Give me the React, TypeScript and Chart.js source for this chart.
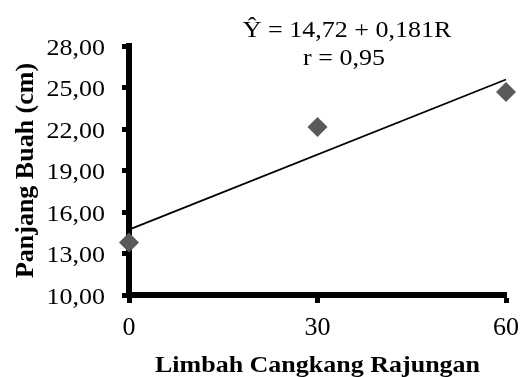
import React, { useEffect, useRef } from "react";
import { Chart, registerables } from "chart.js";

Chart.register(...registerables);

// Data
const limbahLevels = [0, 30, 60];
const panjangBuah = [13.8, 22.15, 24.67];
// Regression line Ŷ = 14,72 + 0,181R evaluated at the axis ends
const trendX = [0, 60];
const trendY = [14.72, 25.58];
const yTickMin = 10;
const yTickMax = 28;
const yTickStep = 3;
const xTickStep = 30;
const equationText = "Ŷ = 14,72 + 0,181R";
const rText = "r = 0,95";
const xTitle = "Limbah Cangkang Rajungan";
const yTitle = "Panjang Buah (cm)";

const SERIF = '"Liberation Serif", Tinos, "Times New Roman", Times, serif';

function drawScaled(
  ctx: CanvasRenderingContext2D,
  text: string,
  x: number,
  y: number,
  font: string,
  align: CanvasTextAlign,
  sx: number,
  sy: number
) {
  ctx.save();
  ctx.translate(x, y);
  ctx.scale(sx, sy);
  ctx.font = font;
  ctx.fillStyle = "#000";
  ctx.textAlign = align;
  ctx.textBaseline = "alphabetic";
  ctx.fillText(text, 0, 0);
  ctx.restore();
}

const textPlugin = {
  id: "textPlugin",
  afterDraw(chart: any) {
    const ctx: CanvasRenderingContext2D = chart.ctx;
    const xs = chart.scales.x;
    const ys = chart.scales.y;
    ys.ticks.forEach((t: any) => {
      const py = ys.getPixelForValue(t.value);
      const label = t.value.toFixed(2).replace(".", ",");
      drawScaled(ctx, label, 105, py + 8.5, `26px ${SERIF}`, "right", 1, 0.85);
    });
    xs.ticks.forEach((t: any) => {
      const px = xs.getPixelForValue(t.value);
      drawScaled(ctx, String(t.value), px, 335, `26px ${SERIF}`, "center", 1, 1);
    });
    drawScaled(ctx, xTitle, (chart.chartArea.left + chart.chartArea.right) / 2, 372, `bold 26px ${SERIF}`, "center", 1, 0.85);
    ctx.save();
    ctx.translate(33, (chart.chartArea.top + chart.chartArea.bottom) / 2);
    ctx.rotate(-Math.PI / 2);
    ctx.font = `bold 26px ${SERIF}`;
    ctx.fillStyle = "#000";
    ctx.textAlign = "center";
    ctx.textBaseline = "alphabetic";
    ctx.fillText(yTitle, 0, 0);
    ctx.restore();
    drawScaled(ctx, equationText, 347, 37, `26px ${SERIF}`, "center", 1, 0.85);
    drawScaled(ctx, rText, 344, 65, `26px ${SERIF}`, "center", 1, 0.85);
  },
};

export default function App() {
  const canvasRef = useRef<HTMLCanvasElement | null>(null);

  useEffect(() => {
    document.body.style.margin = "0";
    const canvas = canvasRef.current;
    if (!canvas) return;
    const chart = new Chart(canvas, {
      type: "scatter",
      data: {
        datasets: [
          {
            label: "Panjang Buah",
            data: limbahLevels.map((x, i) => ({ x, y: panjangBuah[i] })),
            pointStyle: "rectRot",
            pointRadius: 10,
            pointHoverRadius: 10,
            pointBackgroundColor: "#5a5a5a",
            pointBorderColor: "#5a5a5a",
            pointBorderWidth: 0,
            showLine: false,
            clip: false,
            order: 1,
          } as any,
          {
            label: "Regresi",
            data: trendX.map((x, i) => ({ x, y: trendY[i] })),
            showLine: true,
            borderColor: "#000",
            borderWidth: 1.8,
            pointRadius: 0,
            clip: false,
            order: 2,
          } as any,
        ],
      },
      options: {
        responsive: false,
        animation: false,
        devicePixelRatio: 1,
        layout: { padding: { top: 46, right: 20, left: 0, bottom: 0 } },
        plugins: {
          legend: { display: false },
          tooltip: { enabled: false },
        },
        scales: {
          x: {
            type: "linear",
            min: 0,
            max: 60,
            ticks: { stepSize: xTickStep, display: false },
            grid: {
              display: true,
              drawOnChartArea: false,
              drawTicks: true,
              tickLength: 8,
              tickWidth: 5,
              tickColor: "#000",
            },
            border: { display: true, color: "#000", width: 6 },
            afterFit: (s: any) => {
              s.height = 82;
            },
          },
          y: {
            type: "linear",
            min: yTickMin,
            max: yTickMax,
            ticks: { stepSize: yTickStep, display: false },
            grid: {
              display: true,
              drawOnChartArea: false,
              drawTicks: true,
              tickLength: 7,
              tickWidth: 5,
              tickColor: "#000",
            },
            border: { display: true, color: "#000", width: 6 },
            afterFit: (s: any) => {
              s.width = 129;
            },
          },
        },
      } as any,
      plugins: [textPlugin],
    });
    let alive = true;
    const fonts: any = (document as any).fonts;
    if (fonts && fonts.load) {
      Promise.all([
        fonts.load(`26px "Liberation Serif"`),
        fonts.load(`bold 26px "Liberation Serif"`),
      ])
        .then(() => {
          if (alive) chart.update("none");
        })
        .catch(() => {});
    }
    return () => {
      alive = false;
      chart.destroy();
    };
  }, []);

  return (
    <div style={{ position: "fixed", left: 0, top: 0, width: 526, height: 377, background: "#fff" }}>
      <span style={{ position: "absolute", left: -9999, fontFamily: '"Liberation Serif"' }}>
        0 <b>B</b>
      </span>
      <canvas ref={canvasRef} width={526} height={377} style={{ width: 526, height: 377 }} />
    </div>
  );
}
